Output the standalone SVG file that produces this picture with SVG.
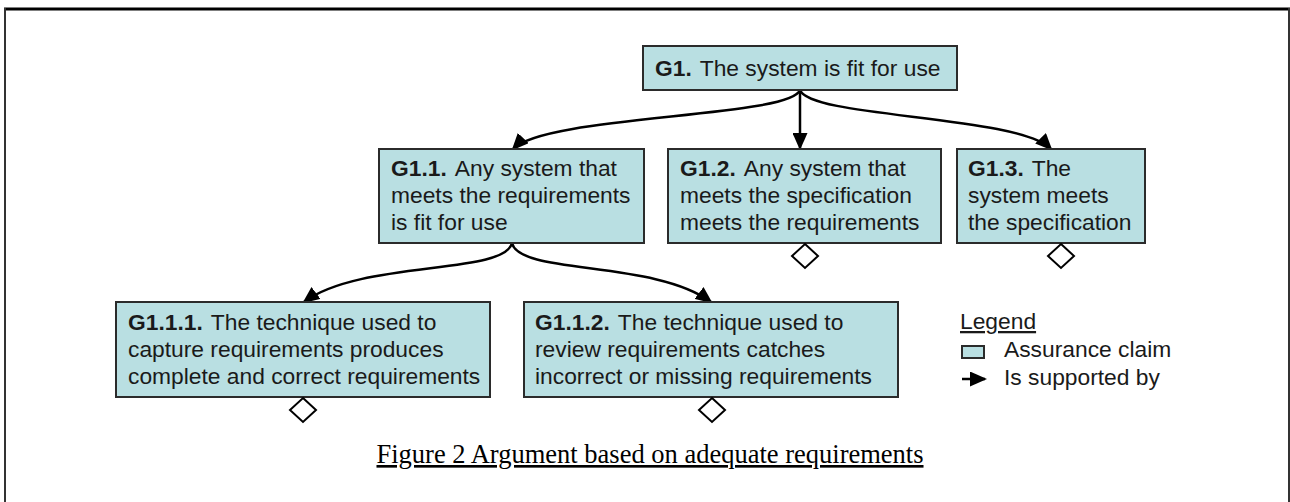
<svg xmlns="http://www.w3.org/2000/svg" width="1290" height="502" viewBox="0 0 1290 502">
  <style>
    .claim { fill: #b9dfe2; stroke: #2b2b2b; stroke-width: 2; }
    .txt { font-family: "Liberation Sans", Arial, sans-serif; font-size: 22.8px; fill: #1a1a1a; }
    .b { font-weight: bold; }
    .link { fill: none; stroke: #000; stroke-width: 2.5; marker-end: url(#head); }
    .dia { fill: #fff; stroke: #000; stroke-width: 2; }
    .cap { font-family: "Liberation Serif", "Times New Roman", serif; font-size: 26.5px; fill: #000; text-decoration: underline; }
  </style>
  <defs>
    <marker id="head" markerUnits="userSpaceOnUse" markerWidth="17" markerHeight="15" refX="15" refY="7.5" orient="auto">
      <path d="M0,0 L17,7.5 L0,15 z" fill="#000"/>
    </marker>
  </defs>

  <!-- page frame -->
  <g id="frame">
    <line x1="4" y1="9" x2="1290" y2="9" stroke="#000" stroke-width="3"/>
    <line x1="5" y1="8" x2="5" y2="502" stroke="#333" stroke-width="2"/>
    <line x1="1289" y1="8" x2="1289" y2="502" stroke="#333" stroke-width="2"/>
  </g>

  <!-- connectors -->
  <g id="connectors">
    <path class="link" d="M800,90 L800,148"/>
    <path class="link" d="M800,90 C790,118 545,115 513,149"/>
    <path class="link" d="M800,90 C810,118 1018,115 1051,149"/>
    <path class="link" d="M512,243 C505,275 360,260 304,302"/>
    <path class="link" d="M512,243 C519,275 655,260 711,302"/>
  </g>

  <g id="G1">
    <rect class="claim" x="643" y="46" width="314" height="44"/>
    <text class="txt" x="655" y="76"><tspan class="b">G1.</tspan><tspan dx="8">The system is fit for use</tspan></text>
  </g>

  <g id="G1.1">
    <rect class="claim" x="379" y="149" width="265" height="94"/>
    <text class="txt" x="391" y="176"><tspan class="b">G1.1.</tspan><tspan dx="8">Any system that</tspan></text>
    <text class="txt" x="391" y="203">meets the requirements</text>
    <text class="txt" x="391" y="230">is fit for use</text>
  </g>

  <g id="G1.2">
    <rect class="claim" x="668" y="149" width="273" height="94"/>
    <text class="txt" x="680" y="176"><tspan class="b">G1.2.</tspan><tspan dx="8">Any system that</tspan></text>
    <text class="txt" x="680" y="203">meets the specification</text>
    <text class="txt" x="680" y="230">meets the requirements</text>
    <path class="dia" d="M805,244 L818,256 L805,268 L792,256 z"/>
  </g>

  <g id="G1.3">
    <rect class="claim" x="957" y="149" width="188" height="94"/>
    <text class="txt" x="968" y="176"><tspan class="b">G1.3.</tspan><tspan dx="8">The</tspan></text>
    <text class="txt" x="968" y="203">system meets</text>
    <text class="txt" x="968" y="230">the specification</text>
    <path class="dia" d="M1061,244 L1074,256 L1061,268 L1048,256 z"/>
  </g>

  <g id="G1.1.1">
    <rect class="claim" x="116" y="302" width="374" height="95"/>
    <text class="txt" x="128" y="330"><tspan class="b">G1.1.1.</tspan><tspan dx="8">The technique used to</tspan></text>
    <text class="txt" x="128" y="357">capture requirements produces</text>
    <text class="txt" x="128" y="384">complete and correct requirements</text>
    <path class="dia" d="M303,398 L316,410 L303,422 L290,410 z"/>
  </g>

  <g id="G1.1.2">
    <rect class="claim" x="524" y="302" width="374" height="95"/>
    <text class="txt" x="535" y="330"><tspan class="b">G1.1.2.</tspan><tspan dx="8">The technique used to</tspan></text>
    <text class="txt" x="535" y="357">review requirements catches</text>
    <text class="txt" x="535" y="384">incorrect or missing requirements</text>
    <path class="dia" d="M712,398 L725,410 L712,422 L699,410 z"/>
  </g>

  <g id="legend">
    <text class="txt" x="960" y="329" text-decoration="underline">Legend</text>
    <rect class="claim" x="962" y="346" width="22" height="12" stroke-width="1.5"/>
    <text class="txt" x="1004" y="357">Assurance claim</text>
    <line x1="962" y1="379" x2="985" y2="379" stroke="#000" stroke-width="2.5" marker-end="url(#head)"/>
    <text class="txt" x="1004" y="385">Is supported by</text>
  </g>

  <text class="cap" x="650" y="463" text-anchor="middle">Figure 2 Argument based on adequate requirements</text>
</svg>
